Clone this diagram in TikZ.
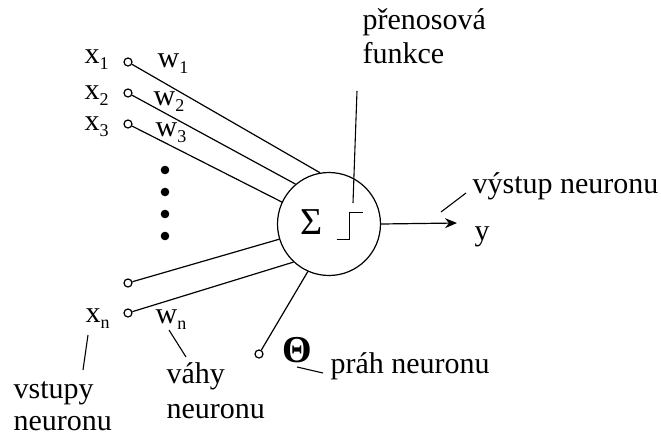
\documentclass[tikz,border=0pt]{standalone}
\usepackage{fontspec}
\setmainfont{Liberation Serif}
\usetikzlibrary{arrows.meta}

\newcommand{\lsub}[1]{\raisebox{-0.5ex}{\fontsize{9}{9}\selectfont #1}}

\tikzset{
  term/.style={circle,draw,fill=white,inner sep=0pt,minimum size=4pt},
  txt/.style={inner sep=0pt,anchor=base west,font=\fontsize{15}{16}\selectfont},
  pointer/.style={line width=0.55pt},
}

\begin{document}
\begin{tikzpicture}[x=0.5pt,y=-0.5pt,line width=0.6pt]
\useasboundingbox (0,0) rectangle (661,435);

\node[circle,draw,minimum size=51.5pt,inner sep=0pt] (neuron) at (329,224) {}; %neuron body
\node[inner sep=0pt,font=\fontsize{19}{19}\selectfont] (sigma) at (312,222) {Σ};
\draw[line width=0.5pt] (337,239) -- (350,239) -- (350,212) -- (363,212); %step function

% inputs
\node[term] (in1) at (128,62) {};
\node[term] (in2) at (128,93) {};
\node[term] (in3) at (128,124) {};
\node[term] (in4) at (128,283) {};
\node[term] (inn) at (128,313) {};
\node[term] (bias) at (259,354) {};

\draw[] (in1) -- (neuron.100);
\draw[] (in2) -- (neuron.130);
\draw[] (in3) -- (neuron.155);
\draw[] (in4) -- (neuron.197);
\draw[] (inn) -- (neuron.227);
\draw[] (bias) -- (neuron.246);

\foreach \y in {170,192,214,236}
  \fill[black] (165,\y) circle (4.3); %dots

% input and weight labels
\node[txt] (x1) at (84,63) {x\lsub{1}};
\node[txt] (x2) at (84,99) {x\lsub{2}};
\node[txt] (x3) at (84,130) {x\lsub{3}};
\node[txt] (xn) at (85,322) {x\lsub{n}};
\node[txt] (w1) at (157,67) {w\lsub{1}};
\node[txt] (w2) at (153,105) {w\lsub{2}};
\node[txt] (w3) at (155,136) {w\lsub{3}};
\node[txt] (wn) at (155,323) {w\lsub{n}};

% output
\coordinate (outtip) at (457,223);
\draw[-{Stealth[length=6pt,width=5pt]}] (neuron.east) -- (outtip);
\node[txt] (y) at (474,240) {y};

% descriptions (base = last line)
\node[txt,align=left] (prenos) at (362,63) {přenosová\\[1pt]funkce};
\node[txt] (vystup) at (472,193) {výstup neuronu};
\node[txt,align=left] (vstupy) at (13,430) {vstupy\\neuronu};
\node[txt,align=left] (vahy) at (166,418) {váhy\\[1.5pt]neuronu};
\node[inner sep=0pt,font=\fontsize{19}{19}\selectfont\bfseries] (theta) at (297,350) {Θ};
\node[txt] (prah) at (330,373) {práh neuronu};

\draw[pointer] (357,91) -- (353,203); %to step function
\draw[pointer] (466,193) -- (441,212); %to output
\draw[pointer] (88,335) -- (83,370); %to x_n
\draw[pointer] (169,330) -- (186,357); %to w_n
\draw[pointer] (297,367) -- (323,373); %to theta

\end{tikzpicture}
\end{document}
